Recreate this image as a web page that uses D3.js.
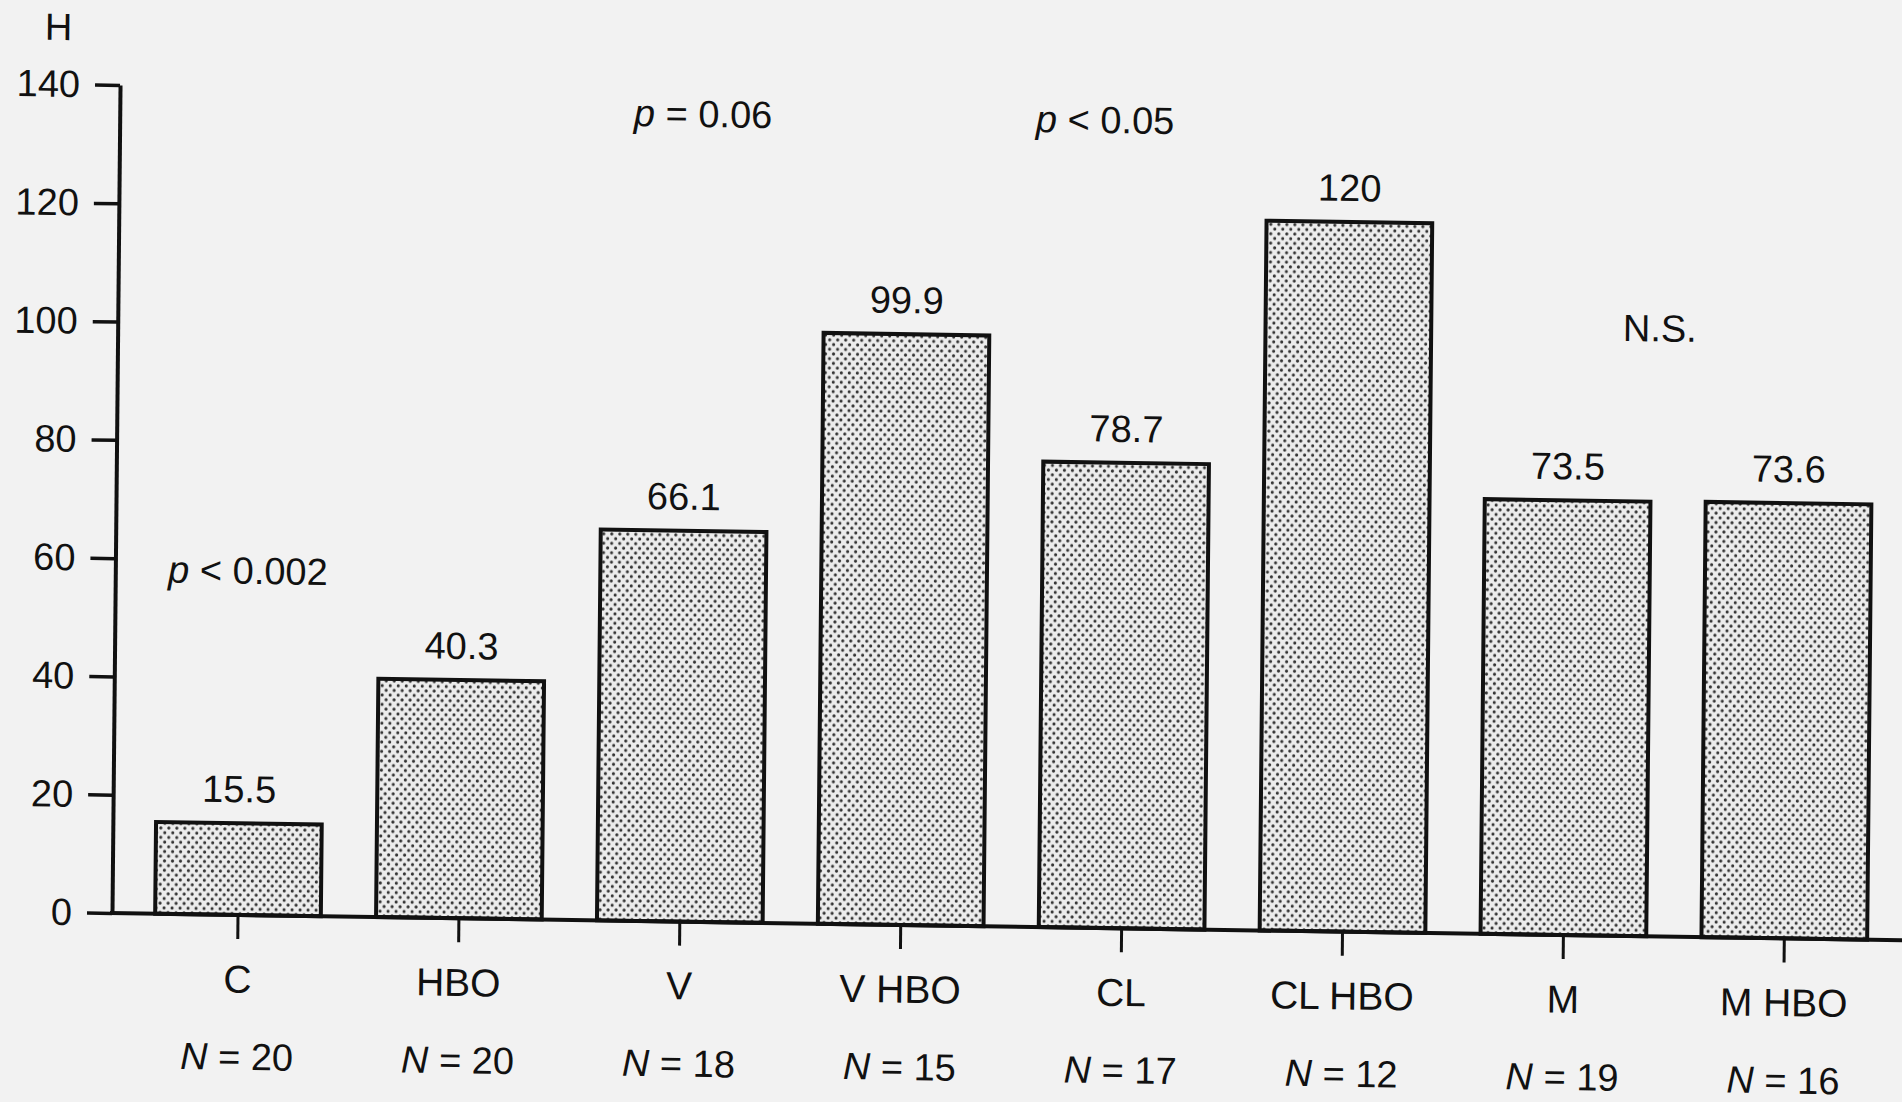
<!DOCTYPE html>
<html>
<head>
<meta charset="utf-8">
<script src="https://cdn.jsdelivr.net/npm/d3@7"></script>
<style>
  html, body { margin: 0; padding: 0; background: #f2f2f2; }
  svg { display: block; }
  text { font-family: "Liberation Sans", Arial, Helvetica, sans-serif; fill: #111; }
</style>
</head>
<body>
<svg id="chart" width="1902" height="1102"></svg>
<script>
// ---- data ----
const categories = ["C", "HBO", "V", "V HBO", "CL", "CL HBO", "M", "M HBO"];
const values = [15.5, 40.3, 66.1, 99.9, 78.7, 120, 73.5, 73.6];
const valueLabels = ["15.5", "40.3", "66.1", "99.9", "78.7", "120", "73.5", "73.6"];
const sampleSizes = [20, 20, 18, 15, 17, 12, 19, 16];
const yTicks = [0, 20, 40, 60, 80, 100, 120, 140];
const axisLabel = "H";
// annotation anchors: position along categories (index, fractional) and value
const annotationItalic = ["p", "p", "p", ""];
const annotationRest = [" < 0.002", " = 0.06", " < 0.05", "N.S."];
const annotationCat = [0.03, 2.07, 3.89, 6.41];
const annotationVal = [56, 134.4, 134.4, 100.6];

// ---- layout ----
const W = 1902, H = 1102;
const originX = 112, originY = 913;
const topY = 85;
const shearB = 0.0152, shearC = -0.0097;
const FONT = 38;

const svg = d3.select("#chart");
svg.append("rect").attr("width", W).attr("height", H).attr("fill", "#f2f2f2");

// dot pattern for bars
const defs = svg.append("defs");
const pat = defs.append("pattern")
  .attr("id", "dots").attr("patternUnits", "userSpaceOnUse")
  .attr("width", 8).attr("height", 9.4);
pat.append("rect").attr("width", 8).attr("height", 9.4).attr("fill", "#ececec");
[[0, 0], [8, 0], [0, 9.4], [8, 9.4], [4, 4.7]].forEach(([cx, cy]) =>
  pat.append("circle").attr("cx", cx).attr("cy", cy).attr("r", 1.55).attr("fill", "#333"));

const e = -shearC * originY, f = -shearB * originX;
const g = svg.append("g")
  .attr("transform", `matrix(1,${shearB},${shearC},1,${e},${f})`);

const y = d3.scaleLinear().domain([0, 140]).range([originY, topY]);
const step = 220.9;
const x = d3.scaleBand().domain(categories)
  .range([238 - step / 2, 238 - step / 2 + step * categories.length])
  .paddingInner(0.25).paddingOuter(0.125);

const catPos = t => {
  const i = Math.floor(t), fr = t - i;
  return x(categories[i]) + x.bandwidth() / 2 + fr * x.step();
};

// bars
g.selectAll("rect.bar").data(values).join("rect")
  .attr("class", "bar")
  .attr("x", (d, i) => x(categories[i]))
  .attr("y", d => y(d))
  .attr("width", x.bandwidth())
  .attr("height", d => y(0) - y(d))
  .attr("fill", "url(#dots)")
  .attr("stroke", "#111").attr("stroke-width", 4);

// value labels
g.selectAll("text.val").data(valueLabels).join("text")
  .attr("class", "val")
  .attr("x", (d, i) => x(categories[i]) + x.bandwidth() / 2)
  .attr("y", (d, i) => y(values[i]) - 21)
  .attr("text-anchor", "middle")
  .attr("font-size", FONT)
  .text(d => d);

// y axis
const yAxis = d3.axisLeft(y).tickValues(yTicks).tickSize(25).tickSizeOuter(0).tickPadding(15);
const ya = g.append("g").attr("transform", `translate(${originX},0)`).call(yAxis);
ya.select(".domain").attr("stroke", "#111").attr("stroke-width", 4);
ya.selectAll(".tick line").attr("stroke", "#111").attr("stroke-width", 3.5);
ya.selectAll(".tick text").attr("font-size", FONT).attr("fill", "#111")
  .style("font-family", '"Liberation Sans", Arial, sans-serif');

// baseline
g.append("line").attr("x1", originX - 2).attr("x2", W + 80)
  .attr("y1", originY).attr("y2", originY)
  .attr("stroke", "#111").attr("stroke-width", 4);

// x axis ticks and category labels
const xAxis = d3.axisBottom(x).tickSize(24).tickSizeOuter(0).tickPadding(26);
const xa = g.append("g").attr("transform", `translate(0,${originY})`).call(xAxis);
xa.select(".domain").remove();
xa.selectAll(".tick line").attr("stroke", "#111").attr("stroke-width", 3);
xa.selectAll(".tick text").attr("font-size", FONT + 1).attr("fill", "#111")
  .style("font-family", '"Liberation Sans", Arial, sans-serif');

// N labels
const nl = g.selectAll("text.n").data(sampleSizes).join("text")
  .attr("class", "n")
  .attr("x", (d, i) => x(categories[i]) + x.bandwidth() / 2)
  .attr("y", originY + 155)
  .attr("text-anchor", "middle")
  .attr("font-size", FONT);
nl.append("tspan").attr("font-style", "italic").text("N");
nl.append("tspan").text(d => " = " + d);

// annotations
annotationRest.forEach((t, i) => {
  const tx = g.append("text")
    .attr("x", catPos(annotationCat[i]))
    .attr("y", y(annotationVal[i]))
    .attr("text-anchor", "middle")
    .attr("font-size", FONT);
  if (annotationItalic[i]) tx.append("tspan").attr("font-style", "italic").text(annotationItalic[i]);
  tx.append("tspan").text(t);
});

// axis title
g.append("text").attr("x", originX - 62).attr("y", y(140) - 44)
  .attr("text-anchor", "middle").attr("font-size", FONT).text(axisLabel);
</script>
</body>
</html>
